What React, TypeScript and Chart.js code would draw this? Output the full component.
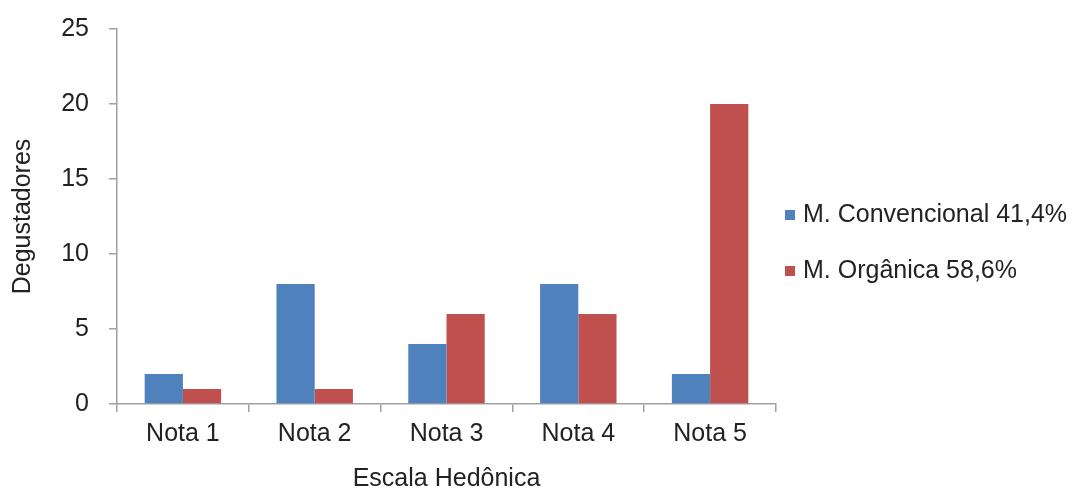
import React, { useEffect, useRef } from "react";
import { Chart, registerables } from "chart.js";

Chart.register(...registerables);

const categories = ["Nota 1", "Nota 2", "Nota 3", "Nota 4", "Nota 5"];
const convencional = [2, 8, 4, 8, 2];
const organica = [1, 1, 6, 6, 20];
const seriesLabels = ["M. Convencional 41,4%", "M. Orgânica 58,6%"];
const yTicks = [0, 5, 10, 15, 20, 25];

const FONT = "'Liberation Sans', Arial, sans-serif";
const AXIS = "#A0A0A0";
const TEXT = "#222222";

const legendPlugin = {
  id: "sideLegend",
  afterDraw(chart: any) {
    const ctx = chart.ctx;
    ctx.save();
    ctx.font = `25px ${FONT}`;
    ctx.textBaseline = "middle";
    ctx.textAlign = "left";
    const x = 785;
    const ys = [215, 271];
    chart.data.datasets.forEach((ds: any, i: number) => {
      ctx.fillStyle = ds.backgroundColor;
      ctx.fillRect(x, ys[i] - 5, 10, 10);
      ctx.fillStyle = TEXT;
      ctx.fillText(ds.label, x + 18, ys[i]);
    });
    ctx.restore();
  },
};

export default function App() {
  const ref = useRef<HTMLCanvasElement>(null);
  useEffect(() => {
    if (!ref.current) return;
    const chart = new Chart(ref.current, {
      type: "bar",
      data: {
        labels: categories,
        datasets: [
          { label: seriesLabels[0], data: convencional, backgroundColor: "#4F81BD", categoryPercentage: 0.58, barPercentage: 1 },
          { label: seriesLabels[1], data: organica, backgroundColor: "#C0504D", categoryPercentage: 0.58, barPercentage: 1 },
        ],
      },
      options: {
        animation: false,
        responsive: false,
        maintainAspectRatio: false,
        layout: { padding: { top: 29, right: 296, left: 0, bottom: 0 } },
        plugins: { legend: { display: false }, tooltip: { enabled: false } },
        scales: {
          x: {
            grid: { drawOnChartArea: false, tickLength: 8, color: AXIS, lineWidth: 1.5, offset: true },
            border: { color: AXIS, width: 1.5 },
            ticks: { color: TEXT, font: { size: 25, family: FONT }, padding: 7 },
            title: { display: true, text: "Escala Hedônica", color: TEXT, font: { size: 25, family: FONT }, padding: { top: 0, bottom: -5 } },
            afterFit: (s: any) => { s.height = 85; s.paddingLeft = 0; s.paddingRight = 0; },
          },
          y: {
            min: 0,
            max: 25,
            afterBuildTicks: (s: any) => { s.ticks = yTicks.map((v) => ({ value: v })); },
            grid: { drawOnChartArea: false, tickLength: 8, color: AXIS, lineWidth: 1.5 },
            border: { color: AXIS, width: 1.5 },
            ticks: { color: TEXT, font: { size: 25, family: FONT }, padding: 20 },
            title: { display: true, text: "Degustadores", color: TEXT, font: { size: 25, family: FONT }, padding: { top: 8, bottom: 0 } },
            afterFit: (s: any) => { s.width = 117; s.paddingTop = 0; s.paddingBottom = 0; },
          },
        },
      },
      plugins: [legendPlugin],
    });
    return () => chart.destroy();
  }, []);
  return (
    <div style={{ position: "fixed", left: 0, top: 0, width: 1072, height: 489, background: "#fff" }}>
      <canvas ref={ref} width={1072} height={489} style={{ width: 1072, height: 489 }} />
    </div>
  );
}
